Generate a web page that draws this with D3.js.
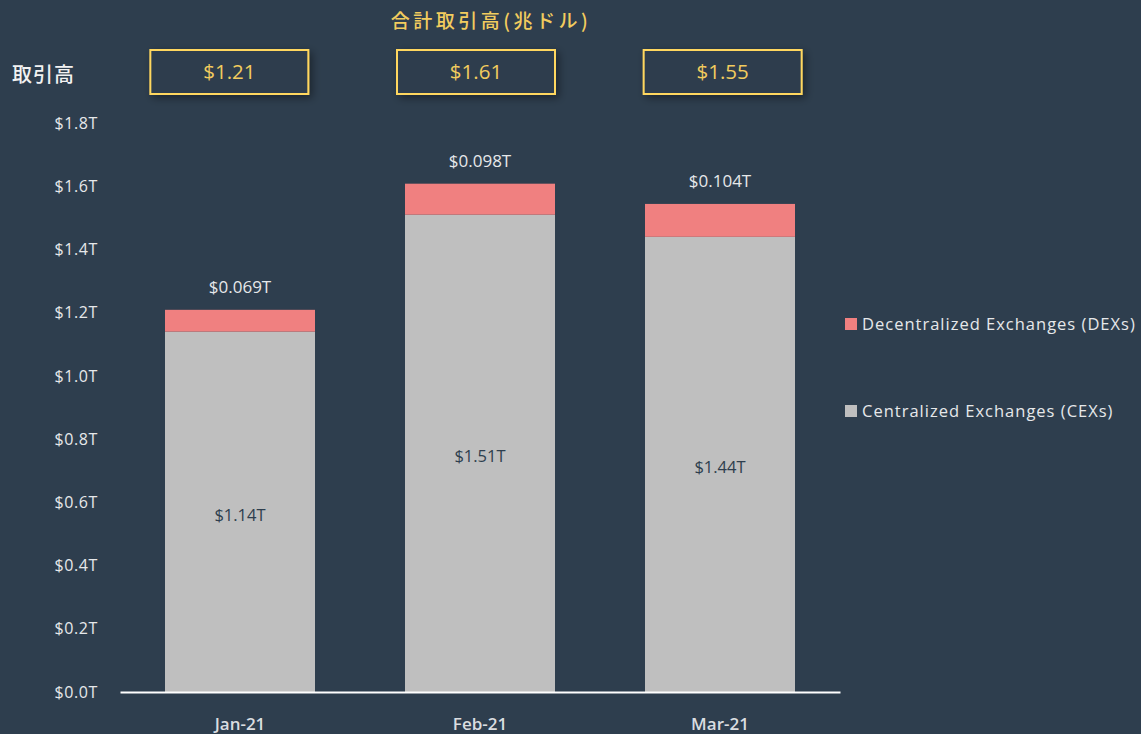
<!DOCTYPE html>
<html>
<head>
<meta charset="utf-8">
<script src="https://cdn.jsdelivr.net/npm/d3@7"></script>
<style>
  html, body { margin: 0; padding: 0; background: #2E3E4E; }
  svg { display: block; }
</style>
</head>
<body>
<svg id="chart" width="1141" height="734"></svg>
<script>
// Monthly trading volume, trillions of USD
const months = ["Jan-21", "Feb-21", "Mar-21"];
const cexValues = [1.14, 1.51, 1.44];
const dexValues = [0.069, 0.098, 0.104];
const totalLabels = ["$1.21", "$1.61", "$1.55"];
const cexLabels = ["$1.14T", "$1.51T", "$1.44T"];
const dexLabels = ["$0.069T", "$0.098T", "$0.104T"];
const yTicks = [0, 0.2, 0.4, 0.6, 0.8, 1.0, 1.2, 1.4, 1.6, 1.8];
const seriesNames = ["Decentralized Exchanges (DEXs)", "Centralized Exchanges (CEXs)"];
const titleText = "合計取引高(兆ドル)";
const sideLabel = "取引高";

const colors = { cex: "#BFBFBF", dex: "#F08080", bg: "#2E3E4E", text: "#E6E8EA", gold: "#F2CC5E" };
const latin = "'Open Sans', 'Noto Sans', sans-serif";
const cjk = "'Noto Sans CJK JP', 'Noto Sans', sans-serif";

const svg = d3.select("#chart");

const x = d3.scaleBand().domain(months).range([120, 840]).paddingInner(0.375).paddingOuter(0.1875);
const y = d3.scaleLinear().domain([0, 1.8]).range([692, 123]);
// header row of total boxes sits on a slightly wider grid
const xBox = d3.scaleBand().domain(months).range([106, 846]);

const data = months.map((m, i) => ({ month: m, cex: cexValues[i], dex: dexValues[i] }));
const stacked = d3.stack().keys(["cex", "dex"])(data);

// drop shadow for the total boxes
const defs = svg.append("defs");
const f = defs.append("filter").attr("id", "shadow").attr("x", "-20%").attr("y", "-40%").attr("width", "150%").attr("height", "200%");
f.append("feDropShadow").attr("dx", 3).attr("dy", 3).attr("stdDeviation", 4).attr("flood-color", "#000").attr("flood-opacity", 0.4);

// stacked bars
svg.append("g").selectAll("g").data(stacked).join("g")
  .attr("fill", d => d.key === "cex" ? colors.cex : colors.dex)
  .selectAll("rect").data(d => d).join("rect")
  .attr("x", d => x(d.data.month))
  .attr("width", x.bandwidth())
  .attr("y", d => y(d[1]))
  .attr("height", d => y(d[0]) - y(d[1]));

// y axis (labels only)
const yAxis = d3.axisLeft(y).tickValues(yTicks).tickSize(0).tickPadding(0)
  .tickFormat(d => "$" + d3.format(".1f")(d) + "T");
const yg = svg.append("g").attr("transform", "translate(98,0)").call(yAxis);
yg.select(".domain").remove();
yg.selectAll("text").attr("fill", colors.text).attr("font-family", latin)
  .attr("font-size", 16).attr("letter-spacing", 0.6);

// x axis
const xAxis = d3.axisBottom(x).tickSize(0).tickPadding(24);
const xg = svg.append("g").attr("transform", "translate(0,692)").call(xAxis);
xg.select(".domain").attr("stroke", "#FFFFFF").attr("stroke-width", 2);
xg.selectAll("text").attr("fill", "#DADDE0").attr("font-family", latin)
  .attr("font-size", 17).attr("font-weight", 600).attr("dy", "0.85em");

// CEX value labels centered in the gray segment
svg.append("g").selectAll("text").data(data).join("text")
  .attr("x", d => x(d.month) + x.bandwidth() / 2)
  .attr("y", d => y(d.cex / 2) + 3)
  .attr("dy", "0.35em")
  .attr("text-anchor", "middle")
  .attr("fill", "#2E3E4E")
  .attr("font-family", latin).attr("font-size", 16.5)
  .text((d, i) => cexLabels[i]);

// DEX value labels above each bar
svg.append("g").selectAll("text").data(data).join("text")
  .attr("x", d => x(d.month) + x.bandwidth() / 2)
  .attr("y", d => y(d.cex + d.dex) - 23)
  .attr("dy", "0.35em")
  .attr("text-anchor", "middle")
  .attr("fill", colors.text)
  .attr("font-family", latin).attr("font-size", 17)
  .text((d, i) => dexLabels[i]);

// title
svg.append("text")
  .attr("x", 491).attr("y", 21).attr("dy", "0.35em")
  .attr("text-anchor", "middle")
  .attr("fill", colors.gold)
  .attr("font-family", cjk).attr("font-size", 19).attr("font-weight", 500)
  .attr("letter-spacing", 3.5)
  .text(titleText);

svg.append("text")
  .attr("x", 12).attr("y", 75).attr("dy", "0.35em")
  .attr("fill", "#F2F2F2")
  .attr("font-family", cjk).attr("font-size", 20).attr("font-weight", 500)
  .attr("letter-spacing", 1)
  .text(sideLabel);

// total boxes
const boxes = svg.append("g").selectAll("g").data(data).join("g")
  .attr("transform", d => `translate(${xBox(d.month) + xBox.bandwidth() / 2},72)`);
boxes.append("rect")
  .attr("x", -79).attr("y", -22).attr("width", 158).attr("height", 44)
  .attr("fill", colors.bg).attr("stroke", "#FFD75E").attr("stroke-width", 2)
  .attr("filter", "url(#shadow)");
boxes.append("text")
  .attr("text-anchor", "middle").attr("dy", "0.35em")
  .attr("fill", colors.gold)
  .attr("font-family", latin).attr("font-size", 20.5)
  .text((d, i) => totalLabels[i]);

// legend
const legend = svg.append("g").selectAll("g").data(seriesNames).join("g")
  .attr("transform", (d, i) => `translate(845,${324 + i * 87})`);
legend.append("rect").attr("x", 0).attr("y", -6).attr("width", 12).attr("height", 12)
  .attr("fill", (d, i) => i === 0 ? colors.dex : colors.cex);
legend.append("text").attr("x", 17).attr("dy", "0.35em")
  .attr("fill", colors.text).attr("font-family", latin).attr("font-size", 16.5)
  .attr("letter-spacing", 1)
  .text(d => d);
</script>
</body>
</html>
